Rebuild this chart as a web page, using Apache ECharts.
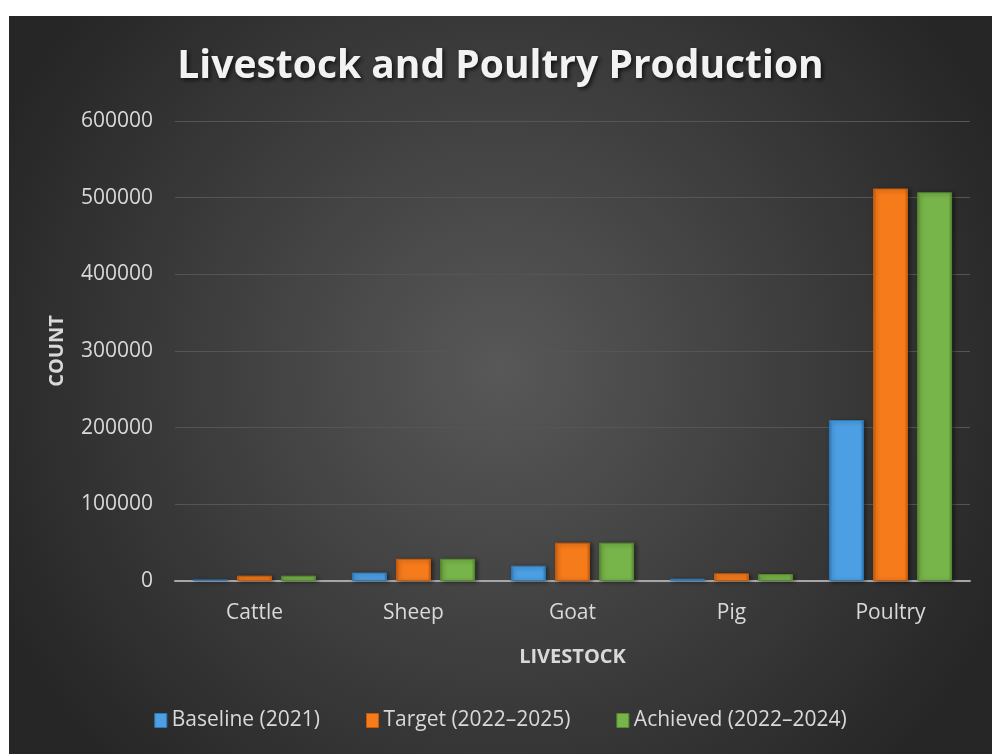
<!DOCTYPE html>
<html>
<head>
<meta charset="utf-8">
<script src="https://cdn.jsdelivr.net/npm/echarts@6/dist/echarts.min.js"></script>
<style>
html,body{margin:0;padding:0;background:#fff;}
#chart{position:absolute;left:9px;top:16px;width:983px;height:738px;}
</style>
</head>
<body>
<div id="chart"></div>
<script>
const categories = ['Cattle', 'Sheep', 'Goat', 'Pig', 'Poultry'];
const seriesNames = ['Baseline (2021)', 'Target (2022\u20132025)', 'Achieved (2022\u20132024)'];
const baseline = [2000, 11000, 20000, 3000, 210000];
const target = [7000, 29000, 50000, 10000, 512000];
const achieved = [7000, 29000, 50000, 9000, 507000];
const yTicks = [0, 100000, 200000, 300000, 400000, 500000, 600000];

const colors = [
  {main:'#4c9fe3', light:'#7cc0f5', dark:'#2f78b8'},
  {main:'#f67b1b', light:'#ffa050', dark:'#c55a0c'},
  {main:'#77b449', light:'#9dd06f', dark:'#558a30'}
];
function barStyle(c){
  return {
    color: {type:'linear', x:0, y:0, x2:1, y2:0, colorStops:[
      {offset:0, color:c.dark},{offset:0.1, color:c.main},{offset:0.9, color:c.main},{offset:1, color:c.dark}]},
    borderColor: c.dark, borderWidth: 1,
    shadowColor:'rgba(0,0,0,0.45)', shadowBlur:4, shadowOffsetX:2, shadowOffsetY:1
  };
}
const font = '"Open Sans", "Noto Sans", sans-serif';
const dataSets = [baseline, target, achieved];
const chart = echarts.init(document.getElementById('chart'));
chart.setOption({
  animation:false,
  backgroundColor:{type:'radial', x:0.5, y:0.48, r:0.75, colorStops:[
    {offset:0, color:'#585858'},{offset:1, color:'#262626'}]},
  title:{text:'Livestock and Poultry Production', left:'center', top:26,
    textStyle:{color:'#f2f2f2', fontSize:39, fontWeight:'bold', fontFamily:font,
      textShadowColor:'rgba(0,0,0,0.7)', textShadowBlur:4, textShadowOffsetX:2, textShadowOffsetY:2}},
  grid:{left:166, top:105, width:795, height:460, containLabel:false},
  legend:{bottom:18, left:'center', itemGap:46, itemWidth:12, itemHeight:14,
    icon:'rect',
    textStyle:{color:'#d9d9d9', fontSize:21, fontFamily:font},
    data:seriesNames.map((n,i)=>({name:n, itemStyle:{color:colors[i].main, borderColor:colors[i].dark, borderWidth:1, shadowBlur:0}}))},
  xAxis:{type:'category', data:categories,
    name:'LIVESTOCK', nameLocation:'middle', nameGap:66,
    nameTextStyle:{color:'#d9d9d9', fontSize:20, fontWeight:'bold', fontFamily:font},
    axisLine:{lineStyle:{color:'#a6a6a6', width:2}},
    axisTick:{show:false},
    axisLabel:{color:'#d9d9d9', fontSize:21, fontFamily:font, margin:22}},
  yAxis:{type:'value', min:0, max:600000, interval:100000,
    name:'COUNT', nameLocation:'middle', nameGap:108,
    nameTextStyle:{color:'#d9d9d9', fontSize:20, fontWeight:'bold', fontFamily:font},
    axisLine:{show:false},
    axisTick:{show:false},
    splitLine:{lineStyle:{color:'#555555', width:1}},
    axisLabel:{color:'#d9d9d9', fontSize:21, fontFamily:font, margin:22,
      formatter: v => String(v)}},
  series: dataSets.map((d,i)=>({
    name:seriesNames[i], type:'bar', data:d,
    barWidth:35, barGap:'26%',
    itemStyle:barStyle(colors[i])
  }))
});
</script>
</body>
</html>
